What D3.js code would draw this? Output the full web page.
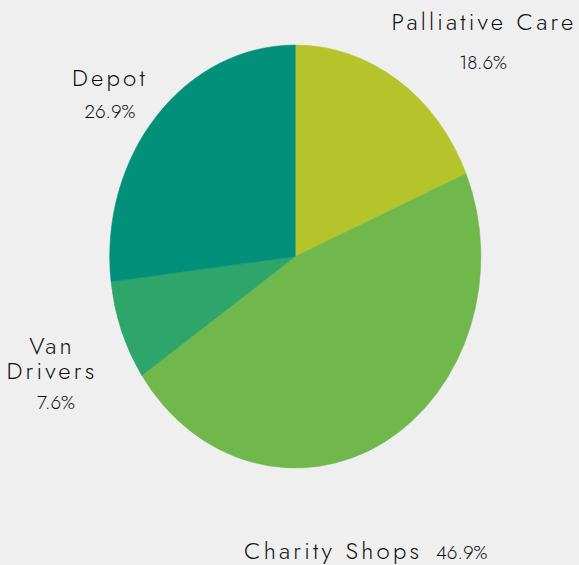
<!DOCTYPE html>
<html>
<head>
<meta charset="utf-8">
<script src="https://cdn.jsdelivr.net/npm/d3@7"></script>
<style>
  html, body { margin: 0; padding: 0; background: #efefef; }
  svg { display: block; }
  .name { font-family: "Jost", "Futura", "Lato", sans-serif; font-size: 24px; font-weight: 300; letter-spacing: 3.2px; fill: #111; }
  .pct { font-family: "Jost", "Futura", "Lato", sans-serif; font-size: 19px; font-weight: 300; fill: #111; }
</style>
</head>
<body>
<script>
// chart data
var categories = ["Palliative Care", "Charity Shops", "Van Drivers", "Depot"];
var shares = [18.6, 46.9, 7.6, 26.9];
var colors = ["#b5c42b", "#70b84b", "#2ea56a", "#03907a"];

// label layout (name lines, name anchor, percent anchor)
var labelLayout = [
  { lines: ["Palliative Care"], x: 484, y: 30, lineH: 25, px: 483, py: 69, anchor: "middle" },
  { lines: ["Charity Shops"], x: 244, y: 559, lineH: 25, px: 436, py: 559, anchor: "start" },
  { lines: ["Van", "Drivers"], x: 52, y: 354, lineH: 25, px: 56, py: 409, anchor: "middle" },
  { lines: ["Depot"], x: 110, y: 86, lineH: 25, px: 110, py: 118, anchor: "middle" }
];

var svgWidth = 579;
var svgHeight = 565;

// the pie is drawn as a circle then stretched vertically
var cx = 295.3, cy = 256.5;
var rx = 185.6, ry = 211.5;

var svg = d3.select("body")
  .append("svg")
  .attr("width", svgWidth)
  .attr("height", svgHeight);

var data = categories.map((c, i) => ({ name: c, value: shares[i], color: colors[i], layout: labelLayout[i] }));

var pie = d3.pie()
  .sort(null)
  .value(d => d.value);

var arc = d3.arc()
  .innerRadius(0)
  .outerRadius(rx);

var pieGroup = svg.append("g")
  .attr("transform", `translate(${cx}, ${cy}) scale(1, ${ry / rx})`);

pieGroup.selectAll("path")
  .data(pie(data))
  .enter()
  .append("path")
  .attr("d", arc)
  .attr("fill", d => d.data.color)
  .attr("stroke", d => d.data.color)
  .attr("stroke-width", 0.5);

var labels = svg.selectAll("g.label")
  .data(data)
  .enter()
  .append("g")
  .attr("class", "label");

labels.each(function(d) {
  var g = d3.select(this);
  var L = d.layout;
  L.lines.forEach((line, i) => {
    g.append("text")
      .attr("class", "name")
      .attr("x", L.x)
      .attr("y", L.y + i * L.lineH)
      .attr("text-anchor", L.anchor)
      .text(line);
  });
  g.append("text")
    .attr("class", "pct")
    .attr("x", L.px)
    .attr("y", L.py)
    .attr("text-anchor", L.anchor)
    .text(d3.format(".1f")(d.value) + "%");
});
</script>
</body>
</html>
